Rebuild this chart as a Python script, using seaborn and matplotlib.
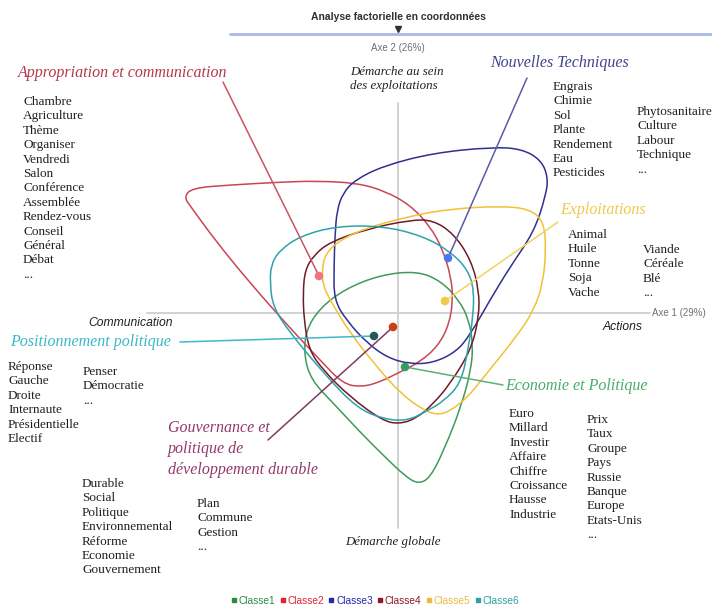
import numpy as np
import pandas as pd
import seaborn as sns
import matplotlib as mpl
from matplotlib import pyplot as plt
from matplotlib.path import Path
from matplotlib.patches import PathPatch
from matplotlib.lines import Line2D

# Class contours on the factorial plane (Axe 1 horizontal, Axe 2 vertical)
classe1_x = [0.19, 0.43, 0.61, 0.71, 0.75, 0.73, 0.63, 0.46, 0.32, 0.20, 0.07, -0.13, -0.38, -0.63, -0.87, -0.94, -0.92, -0.78, -0.53, -0.18]
classe1_y = [0.42, 0.32, 0.13, -0.07, -0.32, -0.57, -0.94, -1.37, -1.65, -1.71, -1.63, -1.44, -1.19, -0.92, -0.67, -0.42, -0.17, 0.05, 0.24, 0.38]

classe2_x = [-2.14, -2.06, -1.68, -1.15, -0.81, -0.41, -0.13, 0.12, 0.32, 0.45, 0.53, 0.55, 0.51, 0.40, 0.22, 0.02, -0.18, -0.36, -0.55, -0.78, -1.08, -1.48, -1.83, -2.07]
classe2_y = [1.16, 1.25, 1.28, 1.31, 1.32, 1.30, 1.22, 1.08, 0.87, 0.63, 0.36, 0.13, -0.12, -0.33, -0.49, -0.59, -0.69, -0.74, -0.71, -0.47, -0.15, 0.30, 0.73, 1.06]

classe3_x = [-0.64, -0.64, -0.63, -0.61, -0.55, -0.43, -0.15, 0.35, 0.95, 1.24, 1.43, 1.50, 1.48, 1.36, 1.12, 0.92, 0.72, 0.58, 0.35, 0.12, -0.10, -0.31, -0.51]
classe3_y = [0.13, 0.46, 0.78, 1.03, 1.20, 1.33, 1.47, 1.60, 1.66, 1.64, 1.53, 1.36, 1.18, 0.81, 0.46, 0.13, -0.22, -0.39, -0.50, -0.51, -0.45, -0.30, -0.08]

classe4_x = [-0.95, -0.93, -0.84, -0.68, -0.31, 0.12, 0.35, 0.56, 0.73, 0.81, 0.81, 0.73, 0.52, 0.35, 0.19, 0.02, -0.15, -0.48, -0.75, -0.89, -0.94]
classe4_y = [0.20, 0.43, 0.58, 0.71, 0.84, 0.93, 0.93, 0.79, 0.53, 0.23, -0.04, -0.37, -0.71, -0.91, -1.05, -1.11, -1.08, -0.84, -0.57, -0.37, -0.07]

classe5_x = [-0.76, -0.73, -0.61, -0.35, 0.12, 0.52, 1.02, 1.32, 1.46, 1.48, 1.45, 1.36, 1.19, 0.85, 0.69, 0.52, 0.40, 0.25, 0.02, -0.21, -0.48, -0.68, -0.75]
classe5_y = [0.43, 0.58, 0.71, 0.84, 0.97, 1.04, 1.07, 1.04, 0.91, 0.63, 0.30, 0.03, -0.23, -0.65, -0.85, -0.98, -1.02, -0.97, -0.80, -0.54, -0.20, 0.13, 0.28]

classe6_x = [-1.28, -1.27, -1.19, -0.98, -0.61, -0.15, 0.25, 0.53, 0.70, 0.76, 0.75, 0.70, 0.63, 0.46, 0.29, 0.09, -0.15, -0.41, -0.71, -1.08, -1.25]
classe6_y = [0.30, 0.48, 0.62, 0.77, 0.87, 0.87, 0.77, 0.61, 0.43, 0.23, -0.04, -0.37, -0.70, -0.88, -0.98, -1.08, -1.06, -0.95, -0.64, -0.20, 0.06]

# Class centroids and the end of each label leader
classes = ["Classe1", "Classe2", "Classe3", "Classe4", "Classe5", "Classe6"]
centre_x = [0.07, -0.79, 0.50, -0.05, 0.47, -0.24]
centre_y = [-0.54, 0.37, 0.55, -0.14, 0.12, -0.23]
leader_x = [1.05, -1.75, 1.29, -1.30, 1.60, -2.18]
leader_y = [-0.72, 2.31, 2.35, -1.27, 0.91, -0.29]

class_names = ["Economie et Politique", "Appropriation et communication", "Nouvelles Techniques",
               "Gouvernance et\npolitique de\ndéveloppement durable", "Exploitations", "Positionnement politique"]

# Word lists
words_appropriation = ["Chambre", "Agriculture", "Thème", "Organiser", "Vendredi", "Salon", "Conférence",
                       "Assemblée", "Rendez-vous", "Conseil", "Général", "Débat", "..."]
words_techniques_1 = ["Engrais", "Chimie", "Sol", "Plante", "Rendement", "Eau", "Pesticides"]
words_techniques_2 = ["Phytosanitaire", "Culture", "Labour", "Technique", "..."]
words_exploitations_1 = ["Animal", "Huile", "Tonne", "Soja", "Vache"]
words_exploitations_2 = ["Viande", "Céréale", "Blé", "..."]
words_positionnement_1 = ["Réponse", "Gauche", "Droite", "Internaute", "Présidentielle", "Electif"]
words_positionnement_2 = ["Penser", "Démocratie", "..."]
words_economie_1 = ["Euro", "Millard", "Investir", "Affaire", "Chiffre", "Croissance", "Hausse", "Industrie"]
words_economie_2 = ["Prix", "Taux", "Groupe", "Pays", "Russie", "Banque", "Europe", "Etats-Unis", "..."]
words_gouvernance_1 = ["Durable", "Social", "Politique", "Environnemental", "Réforme", "Economie", "Gouvernement"]
words_gouvernance_2 = ["Plan", "Commune", "Gestion", "..."]

# Colours
loop_colors = ["#3f9a5a", "#c84655", "#30308f", "#701a2a", "#f0c234", "#2ea3aa"]
dot_colors = ["#2f9f5e", "#f27482", "#4a78f0", "#c8420f", "#f2c848", "#1f5a5c"]
leader_colors = ["#5db077", "#c85464", "#5a5aa8", "#7f3c60", "#f2d264", "#40b8c8"]
name_colors = ["#4aac6c", "#b43848", "#42428e", "#94386a", "#f0c84c", "#38b8c8"]
legend_colors = ["#2d8a3e", "#e02434", "#2828a8", "#901828", "#f0b840", "#30a0a0"]

sns.set_style("white")
plt.rcParams["font.family"] = ["Liberation Serif", "DejaVu Serif"]
serif = "Liberation Serif"
sans = "Liberation Sans"

fig = plt.figure(figsize=(7.12, 6.12), dpi=100)
ax = fig.add_axes([0, 0, 1, 1])
ax.set_xlim(-3.98, 3.14)
ax.set_ylim(-2.99, 3.13)
ax.axis("off")

# Factorial axes
ax.plot([-2.51, 2.52], [0, 0], color="#cfcfcf", lw=1.3, zorder=1)
ax.plot([0, 0], [-2.15, 2.10], color="#cfcfcf", lw=1.3, zorder=1)


def closed_curve(xs, ys):
    pts = np.column_stack([xs, ys])
    mids = (pts + np.roll(pts, -1, axis=0)) / 2
    verts = [mids[-1]]
    codes = [Path.MOVETO]
    for p, m in zip(pts, mids):
        verts += [p, m]
        codes += [Path.CURVE3, Path.CURVE3]
    return Path(verts, codes)


loops = [(classe1_x, classe1_y), (classe2_x, classe2_y), (classe3_x, classe3_y),
         (classe4_x, classe4_y), (classe5_x, classe5_y), (classe6_x, classe6_y)]
for (lx, ly), col in zip(loops, loop_colors):
    ax.add_patch(PathPatch(closed_curve(lx, ly), facecolor="none", edgecolor=col, lw=1.1, zorder=2))

# Leaders from centroid to class name
leaders = pd.DataFrame({
    "x": centre_x + leader_x,
    "y": centre_y + leader_y,
    "classe": classes * 2,
})
sns.lineplot(data=leaders, x="x", y="y", hue="classe", units="classe", estimator=None, sort=False,
             palette=dict(zip(classes, leader_colors)), lw=1.1, legend=False, ax=ax, zorder=3)

centres = pd.DataFrame({"x": centre_x, "y": centre_y, "classe": classes})
sns.scatterplot(data=centres, x="x", y="y", hue="classe", palette=dict(zip(classes, dot_colors)),
                s=38, edgecolor="none", legend=False, ax=ax, zorder=4)
ax.set_xlabel("")
ax.set_ylabel("")

# Class names
name_pos = [(1.07, -0.73), (-3.80, 2.40), (0.92, 2.50), (-2.30, -1.07), (1.62, 1.03), (-3.88, -0.29)]
for name, (tx, ty), col in zip(class_names, name_pos, name_colors):
    ax.text(tx, ty, name, color=col, fontsize=11.5, style="italic", family=serif,
            ha="left", va="top" if "\n" in name else "center", linespacing=1.4)


def word_column(words, x0, y0, step=0.144):
    for i, w in enumerate(words):
        ax.text(x0, y0 - i * step, w, fontsize=9.5, family=serif, color="#202020", ha="left", va="center")


word_column(words_appropriation, -3.75, 2.11)
word_column(words_techniques_1, 1.55, 2.26)
word_column(words_techniques_2, 2.39, 2.01)
word_column(words_exploitations_1, 1.70, 0.78)
word_column(words_exploitations_2, 2.45, 0.63)
word_column(words_positionnement_1, -3.90, -0.54)
word_column(words_positionnement_2, -3.15, -0.59)
word_column(words_economie_1, 1.11, -1.01)
word_column(words_economie_2, 1.89, -1.07)
word_column(words_gouvernance_1, -3.16, -1.71)
word_column(words_gouvernance_2, -2.01, -1.91)

# Axis pole descriptions
ax.text(-0.48, 2.41, "Démarche au sein", fontsize=9.3, style="italic", family=serif, color="#202020", va="center")
ax.text(-0.48, 2.27, "des exploitations", fontsize=9.3, style="italic", family=serif, color="#202020", va="center")
ax.text(-0.53, -2.29, "Démarche globale", fontsize=9.3, style="italic", family=serif, color="#202020", va="center")
ax.text(-3.10, -0.10, "Communication", fontsize=8.7, style="italic", family=sans, color="#202020", va="center")
ax.text(2.45, -0.14, "Actions", fontsize=8.7, style="italic", family=sans, color="#202020", va="center", ha="right")
ax.text(2.54, 0.0, "Axe 1 (29%)", fontsize=7, family=sans, color="#707070", va="center")
ax.text(0.0, 2.65, "Axe 2 (26%)", fontsize=7, family=sans, color="#707070", va="center", ha="center")

# Title bar
ax.text(0.0, 2.96, "Analyse factorielle en coordonnées", fontsize=7.5, weight="bold", family=sans,
        color="#303030", ha="center", va="center")
ax.plot([-1.68, 3.14], [2.79, 2.79], color="#aab8e6", lw=2, zorder=1)
ax.plot([0.0], [2.84], marker="v", color="#303030", markersize=4)

# Legend
handles = [Line2D([], [], marker="s", ls="", color=c, markersize=3) for c in legend_colors]
leg = ax.legend(handles, classes, ncol=6, loc="center", bbox_to_anchor=(0.527, 0.018), frameon=False,
                handlelength=0.5, handletextpad=0.2, columnspacing=0.5,
                labelcolor=legend_colors, prop={"family": sans, "size": 7.3})

fig.savefig("out.png", dpi=100)
